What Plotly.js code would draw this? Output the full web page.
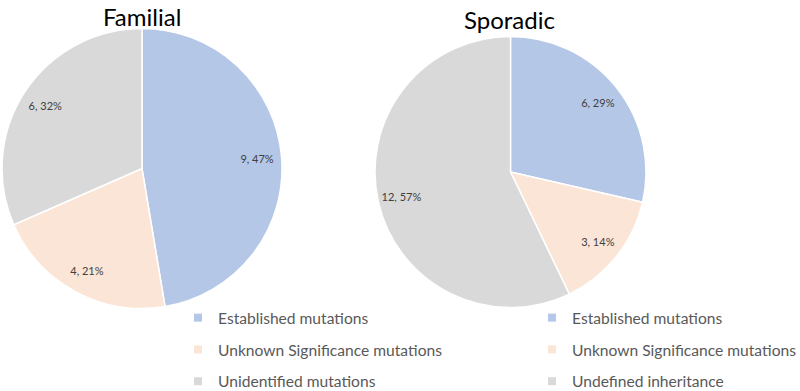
<!DOCTYPE html>
<html>
<head>
<meta charset="utf-8">
<script src="https://cdn.plot.ly/plotly-3.0.1.min.js"></script>
<style>html,body{margin:0;padding:0;background:#fff;}#chart{width:800px;height:391px;}</style>
</head>
<body>
<div id="chart"></div>
<script>
const famTitle = 'Familial';
const famLabels = ['Established mutations', 'Unknown Significance mutations', 'Unidentified mutations'];
const famValues = [9, 4, 6];
const spoTitle = 'Sporadic';
const spoLabels = ['Established mutations', 'Unknown Significance mutations', 'Undefined inheritance'];
const spoValues = [6, 3, 12];
const sliceColors = ['#B4C7E7', '#FBE5D6', '#D9D9D9'];

const FONT = 'Lato, "Open Sans", sans-serif';

function pieTrace(labels, values, dom) {
  return {
    type: 'pie', labels: labels, values: values, sort: false, direction: 'clockwise', rotation: 0,
    marker: {colors: sliceColors, line: {color: '#ffffff', width: 1.5}},
    textinfo: 'none', domain: dom, showlegend: false, hoverinfo: 'label+value+percent'
  };
}
// transparent ring on top of each pie, used only to place the data labels near the rim
function labelRing(labels, values, dom) {
  return {
    type: 'pie', labels: labels, values: values, sort: false, direction: 'clockwise', rotation: 0,
    hole: 0.65,
    marker: {colors: values.map(() => 'rgba(0,0,0,0)'), line: {width: 0}},
    texttemplate: '%{value}, %{percent:.0%}', textposition: 'inside', insidetextorientation: 'horizontal',
    textfont: {family: FONT, size: 11, color: '#404040'},
    domain: dom, showlegend: false, hoverinfo: 'skip'
  };
}

const famDomain = {x: [2/800, 282/800], y: [1 - 308.5/391, 1 - 28.5/391]};
const spoDomain = {x: [375/800, 646/800], y: [1 - 307.5/391, 1 - 36.5/391]};

const traces = [
  pieTrace(famLabels, famValues, famDomain),
  pieTrace(spoLabels, spoValues, spoDomain),
  labelRing(famLabels, famValues, famDomain),
  labelRing(spoLabels, spoValues, spoDomain)
];

function legendTraces(labels, legendId, prefix) {
  return labels.map((lab, i) => ({
    type: 'scatter', x: [null], y: [null], mode: 'markers', name: lab,
    legend: legendId, legendgroup: prefix + i, showlegend: true,
    marker: {symbol: 'square', size: 8, color: sliceColors[i]}, hoverinfo: 'skip'
  }));
}
traces.push(...legendTraces(famLabels, 'legend', 'f'));
traces.push(...legendTraces(spoLabels, 'legend2', 's'));

const legendCommon = {
  orientation: 'v', xanchor: 'left', yanchor: 'top', y: 1 - 301/391,
  tracegroupgap: 8.5, bgcolor: 'rgba(0,0,0,0)',
  font: {family: FONT, size: 15.6, color: '#595959'}
};

const layout = {
  width: 800, height: 391,
  margin: {l: 0, r: 0, t: 0, b: 0, autoexpand: false},
  paper_bgcolor: '#ffffff', plot_bgcolor: '#ffffff',
  xaxis: {visible: false}, yaxis: {visible: false},
  legend: Object.assign({}, legendCommon, {x: 178/800}),
  legend2: Object.assign({}, legendCommon, {x: 532/800}),
  annotations: [
    {text: famTitle, x: 142/800, y: 1, xref: 'paper', yref: 'paper', xanchor: 'center', yanchor: 'top',
     showarrow: false, font: {family: FONT, size: 24, color: '#000000'}},
    {text: spoTitle, x: 510/800, y: 1 - 3/391, xref: 'paper', yref: 'paper', xanchor: 'center', yanchor: 'top',
     showarrow: false, font: {family: FONT, size: 24, color: '#000000'}}
  ]
};

Plotly.newPlot('chart', traces, layout, {displayModeBar: false, staticPlot: true});
</script>
</body>
</html>
